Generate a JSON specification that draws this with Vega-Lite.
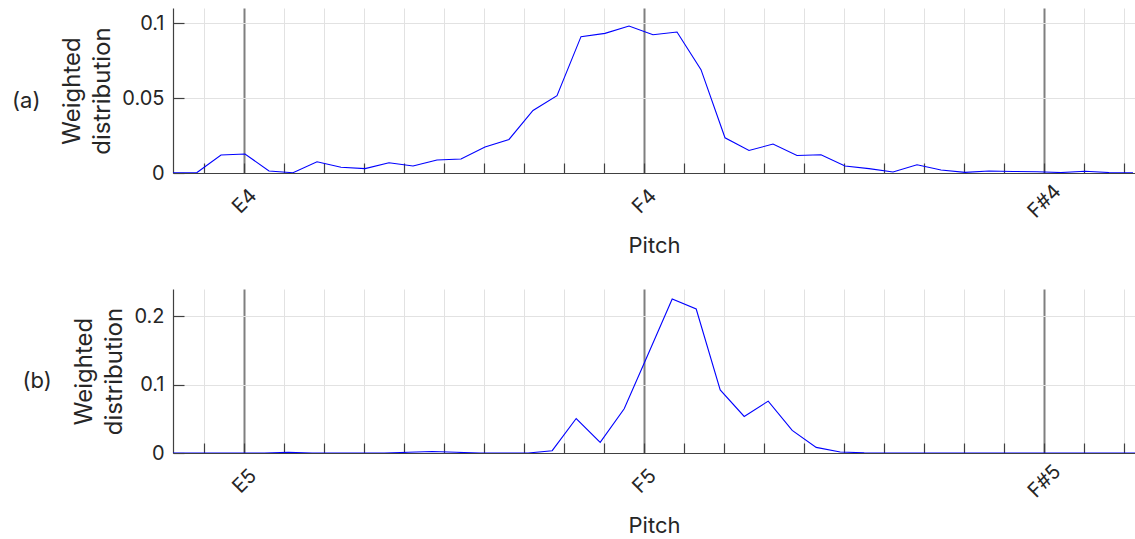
{
  "$schema": "https://vega.github.io/schema/vega-lite/v6.json",
  "padding": {"left": 12, "top": 8, "right": 0, "bottom": 0},
  "background": "white",
  "config": {
    "font": "Inter",
    "view": {"stroke": null},
    "axis": {
      "domainColor": "#404040",
      "domainWidth": 1.2,
      "tickColor": "#404040",
      "tickWidth": 1.2,
      "labelColor": "#262626",
      "titleColor": "#262626",
      "labelFont": "Inter",
      "titleFont": "Inter",
      "labelFontSize": 20,
      "titleFontSize": 22,
      "titleFontWeight": "normal"
    },
    "title": {"font": "Inter", "fontSize": 22, "fontWeight": "normal", "color": "#262626"}
  },
  "datasets": {
    "a": [
      {"cents": -17.8, "w": 0.0002}, {"cents": -11.8, "w": 0.0003}, {"cents": -5.8, "w": 0.012}, {"cents": 0.2, "w": 0.0127},
      {"cents": 6.2, "w": 0.0013}, {"cents": 12.2, "w": 0.0002}, {"cents": 18.2, "w": 0.0075}, {"cents": 24.2, "w": 0.0038},
      {"cents": 30.2, "w": 0.0029}, {"cents": 36.2, "w": 0.0068}, {"cents": 42.2, "w": 0.0047}, {"cents": 48.2, "w": 0.0087},
      {"cents": 54.2, "w": 0.0093}, {"cents": 60.2, "w": 0.0173}, {"cents": 66.2, "w": 0.0224}, {"cents": 72.2, "w": 0.0417},
      {"cents": 78.2, "w": 0.0515}, {"cents": 84.2, "w": 0.0909}, {"cents": 90.2, "w": 0.0931}, {"cents": 96.2, "w": 0.098},
      {"cents": 102.2, "w": 0.0922}, {"cents": 108.2, "w": 0.094}, {"cents": 114.2, "w": 0.0689}, {"cents": 120.2, "w": 0.0235},
      {"cents": 126.2, "w": 0.015}, {"cents": 132.2, "w": 0.0193}, {"cents": 138.2, "w": 0.0117}, {"cents": 144.2, "w": 0.0122},
      {"cents": 150.2, "w": 0.0047}, {"cents": 156.2, "w": 0.0029}, {"cents": 162.2, "w": 0.0007}, {"cents": 168.2, "w": 0.0055},
      {"cents": 174.2, "w": 0.002}, {"cents": 180.2, "w": 0.0004}, {"cents": 186.2, "w": 0.0013}, {"cents": 192.2, "w": 0.001},
      {"cents": 198.2, "w": 0.0008}, {"cents": 204.2, "w": 0.0003}, {"cents": 210.2, "w": 0.0012}, {"cents": 216.2, "w": 0.0003},
      {"cents": 222.2, "w": 0.0002}
    ],
    "b": [
      {"cents": -19, "w": 0}, {"cents": -13, "w": 0}, {"cents": -7, "w": 0}, {"cents": -1, "w": 0},
      {"cents": 5, "w": 0}, {"cents": 11, "w": 0.001}, {"cents": 17, "w": 0}, {"cents": 23, "w": 0},
      {"cents": 29, "w": 0}, {"cents": 35, "w": 0}, {"cents": 41, "w": 0.001}, {"cents": 47, "w": 0.0023},
      {"cents": 53, "w": 0.001}, {"cents": 59, "w": 0}, {"cents": 65, "w": 0}, {"cents": 71, "w": 0},
      {"cents": 77, "w": 0.0034}, {"cents": 83, "w": 0.0505}, {"cents": 89, "w": 0.0155}, {"cents": 95, "w": 0.0647},
      {"cents": 101, "w": 0.145}, {"cents": 107, "w": 0.2253}, {"cents": 113, "w": 0.2107}, {"cents": 119, "w": 0.0924},
      {"cents": 125, "w": 0.0535}, {"cents": 131, "w": 0.0759}, {"cents": 137, "w": 0.033}, {"cents": 143, "w": 0.0082},
      {"cents": 149, "w": 0.0015}, {"cents": 155, "w": 0.0003}, {"cents": 161, "w": 0}, {"cents": 167, "w": 0},
      {"cents": 173, "w": 0}, {"cents": 179, "w": 0}, {"cents": 185, "w": 0}, {"cents": 191, "w": 0},
      {"cents": 197, "w": 0}, {"cents": 203, "w": 0}, {"cents": 209, "w": 0}, {"cents": 215, "w": 0},
      {"cents": 221, "w": 0}, {"cents": 227, "w": 0}
    ]
  },
  "vconcat": [
    {
      "width": 962,
      "height": 165,
      "title": {"text": "(a)", "orient": "left", "angle": 0, "anchor": "middle", "align": "right", "baseline": "middle", "offset": -8, "dy": 10},
      "data": {"name": "a"},
      "mark": {"type": "line", "color": "#0000ff", "strokeWidth": 1.1, "clip": true},
      "encoding": {
        "x": {
          "field": "cents", "type": "quantitative",
          "scale": {"domain": [-17.8, 222.7], "nice": false, "zero": false},
          "axis": {
            "values": [-10, 0, 10, 20, 30, 40, 50, 60, 70, 80, 90, 100, 110, 120, 130, 140, 150, 160, 170, 180, 190, 200, 210, 220],
            "labelExpr": "datum.value == 0 ? 'E4' : datum.value == 100 ? 'F4' : datum.value == 200 ? 'F#4' : ''",
            "grid": true,
            "gridColor": {"condition": {"test": "datum.value % 100 === 0", "value": "#7f7f7f"}, "value": "#e2e2e2"},
            "gridWidth": {"condition": {"test": "datum.value % 100 === 0", "value": 2}, "value": 1},
            "tickSize": -10,
            "labelAngle": -45,
            "labelAlign": "center",
            "labelBaseline": "middle",
            "labelPadding": 38,
            "labelOverlap": false,
            "title": "Pitch",
            "titlePadding": 14
          }
        },
        "y": {
          "field": "w", "type": "quantitative",
          "scale": {"domain": [0, 0.11], "nice": false},
          "axis": {
            "values": [0, 0.05, 0.1],
            "format": "~g",
            "grid": true,
            "gridColor": "#e2e2e2",
            "tickSize": -11,
            "labelPadding": 20,
            "title": ["Weighted", "distribution"],
            "titleFontSize": 24,
            "titleLineHeight": 30,
            "titlePadding": 7
          }
        }
      }
    },
    {
      "width": 962,
      "height": 164,
      "title": {"text": "(b)", "orient": "left", "angle": 0, "anchor": "middle", "align": "right", "baseline": "middle", "offset": -8, "dy": 10},
      "data": {"name": "b"},
      "mark": {"type": "line", "color": "#0000ff", "strokeWidth": 1.1, "clip": true},
      "encoding": {
        "x": {
          "field": "cents", "type": "quantitative",
          "scale": {"domain": [-17.8, 222.7], "nice": false, "zero": false},
          "axis": {
            "values": [-10, 0, 10, 20, 30, 40, 50, 60, 70, 80, 90, 100, 110, 120, 130, 140, 150, 160, 170, 180, 190, 200, 210, 220],
            "labelExpr": "datum.value == 0 ? 'E5' : datum.value == 100 ? 'F5' : datum.value == 200 ? 'F#5' : ''",
            "grid": true,
            "gridColor": {"condition": {"test": "datum.value % 100 === 0", "value": "#7f7f7f"}, "value": "#e2e2e2"},
            "gridWidth": {"condition": {"test": "datum.value % 100 === 0", "value": 2}, "value": 1},
            "tickSize": -10,
            "labelAngle": -45,
            "labelAlign": "center",
            "labelBaseline": "middle",
            "labelPadding": 38,
            "labelOverlap": false,
            "title": "Pitch",
            "titlePadding": 14
          }
        },
        "y": {
          "field": "w", "type": "quantitative",
          "scale": {"domain": [0, 0.24], "nice": false},
          "axis": {
            "values": [0, 0.1, 0.2],
            "format": "~g",
            "grid": true,
            "gridColor": "#e2e2e2",
            "tickSize": -11,
            "labelPadding": 20,
            "title": ["Weighted", "distribution"],
            "titleFontSize": 24,
            "titleLineHeight": 30,
            "titlePadding": 7
          }
        }
      }
    }
  ],
  "spacing": 32
}
